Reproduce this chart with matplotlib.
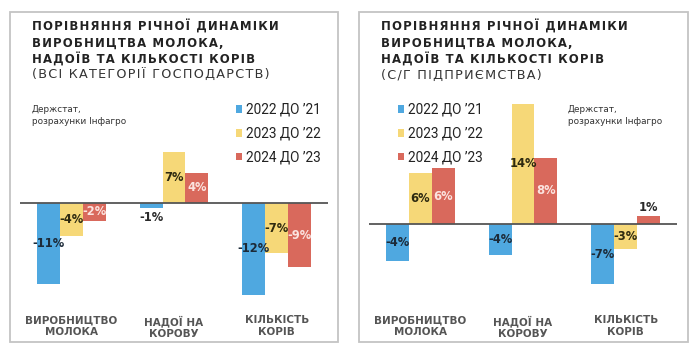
import numpy as np
import matplotlib
matplotlib.use("Agg")
import matplotlib.pyplot as plt
from matplotlib.patches import Rectangle

# data (% change year to year)
categories = ["ВИРОБНИЦТВО\nМОЛОКА", "НАДОЇ НА\nКОРОВУ", "КІЛЬКІСТЬ\nКОРІВ"]
series = ["2022 ДО ’21", "2023 ДО ’22", "2024 ДО ’23"]

all_farms_22 = [-11.0, -0.7, -12.4]
all_farms_23 = [-4.4, 6.9, -6.8]
all_farms_24 = [-2.4, 4.1, -8.7]

agri_ent_22 = [-4.3, -3.6, -7.0]
agri_ent_23 = [5.9, 14.0, -2.9]
agri_ent_24 = [6.5, 7.7, 0.9]

colors = ["#4fa8e0", "#f6d878", "#d9695c"]
label_colors = ["#1c2a38", "#2e2a10", "#fbe3df"]

W, H = 700, 353
fig = plt.figure(figsize=(7, 3.53), dpi=100)
fig.patch.set_facecolor("white")


def fx(px):
    return px / W


def fy(py):
    return 1 - py / H


def spaced(s, sep="\u200a"):
    # poor man's letter spacing
    return "\n".join(sep.join(line) for line in s.split("\n"))


def panel(x0, x1, subtitle, vals, ylim, leg_xy, src_xy):
    # frame
    fig.patches.append(Rectangle((fx(x0), fy(342)), fx(x1 - x0), (342 - 12) / H,
                                 transform=fig.transFigure, fill=False,
                                 edgecolor="#c4c4c4", lw=1.3))
    tx = x0 + 22
    fig.text(fx(tx), fy(20),
             spaced("ПОРІВНЯННЯ РІЧНОЇ ДИНАМІКИ\nВИРОБНИЦТВА МОЛОКА,\nНАДОЇВ ТА КІЛЬКОСТІ КОРІВ"),
             fontsize=8.4, fontweight="bold", color="#222222", va="top", ha="left",
             linespacing=1.25)
    fig.text(fx(tx), fy(69), spaced(subtitle), fontsize=9.2, color="#333333",
             va="top", ha="left")
    fig.text(fx(src_xy[0]), fy(src_xy[1]), "Держстат,\nрозрахунки Інфагро",
             fontsize=6.4, color="#333333", va="top", ha="left", linespacing=1.5)

    ax = fig.add_axes([fx(x0 + 10), fy(300), fx(308), (300 - 95) / H])
    x = np.arange(len(categories))
    w = 0.223
    handles = []
    for i, v in enumerate(vals):
        bars = ax.bar(x + (i - 1) * w, v, w, color=colors[i], label=series[i], zorder=2)
        handles.append(bars)
        for xi, vi in zip(x + (i - 1) * w, v):
            txt = f"{round(vi):d}%"
            if abs(vi) < 1.5:
                off = 1.5 if vi > 0 else -2
                ax.annotate(txt, (xi, vi), xytext=(0, off), textcoords="offset points",
                            ha="center", va="bottom" if vi > 0 else "top",
                            fontsize=8.3, fontweight="bold", color="#2a2a2a")
            else:
                ax.text(xi, vi / 2, txt, ha="center", va="center",
                        fontsize=8.3, fontweight="bold", color=label_colors[i], zorder=3)
    ax.axhline(0, color="#555555", lw=1.3, zorder=4)
    ax.set_xlim(-0.5, 2.5)
    ax.set_ylim(*ylim)
    ax.set_yticks([])
    ax.set_xticks(x)
    ax.set_xticklabels(categories, fontsize=7.5, fontweight="bold",
                       color="#555555", linespacing=1.25)
    ax.tick_params(axis="x", length=0, pad=11)
    for s in ax.spines.values():
        s.set_visible(False)
    ax.patch.set_alpha(0)

    leg = ax.legend(handles=handles, loc="upper left", bbox_to_anchor=(fx(leg_xy[0]), fy(leg_xy[1])),
                    bbox_transform=fig.transFigure, frameon=False,
                    handlelength=0.45, handleheight=0.45, handletextpad=0.25,
                    labelspacing=0.72, borderaxespad=0, borderpad=0,
                    prop={"family": "Roboto", "size": 9.8})
    for t in leg.get_texts():
        t.set_color("#222222")
    return ax


panel(10, 338, "(ВСІ КАТЕГОРІЇ ГОСПОДАРСТВ)",
      [all_farms_22, all_farms_23, all_farms_24], (-13.1, 14.6), (236, 103), (32, 105))
panel(359, 688, "(С/Г ПІДПРИЄМСТВА)",
      [agri_ent_22, agri_ent_23, agri_ent_24], (-8.84, 15.0), (398, 103), (568, 105))

fig.savefig("out.png", dpi=100, facecolor="white")
